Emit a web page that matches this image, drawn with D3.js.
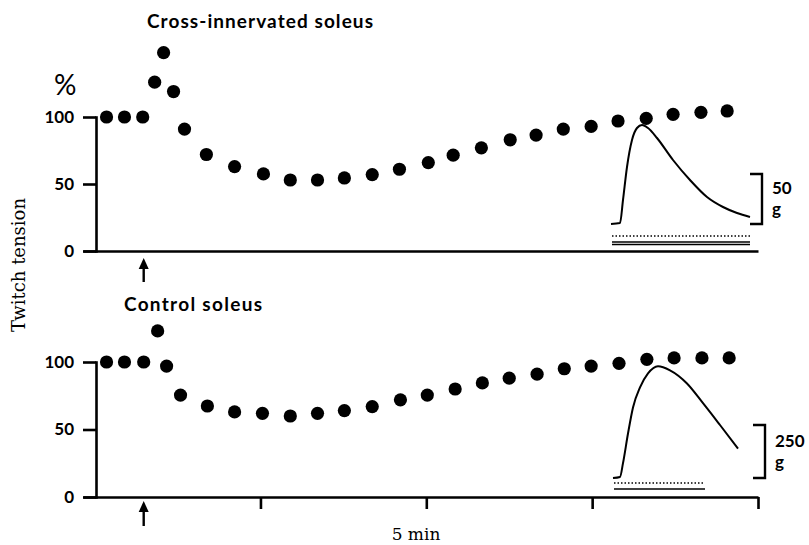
<!DOCTYPE html>
<html>
<head>
<meta charset="utf-8">
<script src="https://cdn.jsdelivr.net/npm/d3@7"></script>
<style>
  body { margin: 0; background: #fff; }
  .tick text { font-family: Lato, "Open Sans", sans-serif; font-weight: 700; font-size: 17px; fill: #000; }
  .sans { font-family: Lato, "Open Sans", sans-serif; font-weight: 700; }
  .serif { font-family: "DejaVu Serif", serif; }
</style>
</head>
<body>
<div id="chart"></div>
<script>
// twitch tension (% of initial) against time (min)
var crossTime = [0.36, 0.90, 1.45, 1.81, 2.08, 2.38, 2.71, 3.37, 4.22, 5.09, 5.90, 6.72, 7.53, 8.37,
                 9.19, 10.06, 10.81, 11.66, 12.53, 13.31, 14.13, 14.97, 15.78, 16.63, 17.44, 18.28, 19.07];
var crossTension = [100, 100, 100, 126, 148, 119, 91, 72, 63, 57.5, 53, 53, 54.5, 57,
                    61, 66, 71.5, 77, 83, 86.5, 91, 93, 97, 99, 102, 103.5, 104.5];

var controlTime = [0.36, 0.90, 1.48, 1.90, 2.17, 2.59, 3.40, 4.22, 5.06, 5.90, 6.72, 7.53, 8.37,
                   9.22, 10.03, 10.87, 11.69, 12.50, 13.34, 14.16, 14.97, 15.81, 16.65, 17.47, 18.31, 19.13];
var controlTension = [100, 100, 100, 123, 97, 75.5, 67.4, 63, 62, 60, 62, 64, 67,
                      72, 75.5, 80, 84.5, 88, 91, 95, 97, 99, 102, 103, 103, 103];

var stimTime = 1.48;           // arrow
var timeTicks = [5, 10, 15, 20];
var tensionTicks = [0, 50, 100];

// single twitch records (ms, g)
var crossTraceTime  = [0, 9, 12, 16, 21, 26, 31, 37, 46, 62, 79, 96, 112, 126, 139];
var crossTraceForce = [0, 1, 24, 57, 84, 96, 99, 96, 86, 64, 44, 27, 17, 11, 7];
var controlTraceTime  = [0, 7, 10, 15, 20, 27, 35, 45, 57, 74, 90, 107, 125];
var controlTraceForce = [0, 5, 70, 210, 333, 427, 493, 527, 508, 446, 353, 250, 139];

var width = 809, height = 545;

var svg = d3.select("#chart")
  .append("svg")
    .attr("width", width)
    .attr("height", height);

// shared time scale
var x = d3.scaleLinear().domain([-0.35, 20]).range([83, 758]);

var panels = [
  { title: "Cross-innervated soleus", titleX: 147, titleY: 28, titleLen: 226,
    time: crossTime, tension: crossTension, top: 117, bottom: 251, ticks: [],
    arrowGap: 7, arrowLen: 24,
    trace: { t: crossTraceTime, f: crossTraceForce, x0: 611, x1: 750, base: 224, pxPerG: 1,
             bar: 50, barX: 750, label: "50", labelSize: 17,
             dotY: 236, lineY: [242, 244.5], dotEnd: 752, lineEnd: 750 } },
  { title: "Control soleus", titleX: 124, titleY: 311, titleLen: 138,
    time: controlTime, tension: controlTension, top: 362, bottom: 497, ticks: timeTicks,
    arrowGap: 4, arrowLen: 25,
    trace: { t: controlTraceTime, f: controlTraceForce, x0: 613, x1: 738, base: 478, pxPerG: 0.212,
             bar: 250, barX: 753, label: "250", labelSize: 17,
             dotY: 483, lineY: [489], dotEnd: 705, lineEnd: 705 } }
];

panels.forEach(function(p) {
  var g = svg.append("g");
  var y = d3.scaleLinear().domain([0, 100]).range([p.bottom, p.top]);

  // axes
  g.append("g")
    .attr("transform", "translate(96,0)")
    .call(d3.axisLeft(y).tickValues(tensionTicks).tickSize(13).tickSizeOuter(0).tickPadding(9))
    .call(function(a) { a.selectAll("path,line").attr("stroke", "#000").attr("stroke-width", 2.6); })
    .call(function(a) { a.select(".domain").attr("stroke-linecap", "square"); });

  g.append("g")
    .attr("transform", "translate(0," + y(0) + ")")
    .call(d3.axisBottom(x).tickValues(p.ticks).tickSize(12).tickSizeOuter(0).tickFormat(""))
    .call(function(a) { a.selectAll("path,line").attr("stroke", "#000").attr("stroke-width", 2.6); });

  // points
  g.selectAll("circle")
    .data(p.time)
    .enter().append("circle")
      .attr("cx", function(d) { return x(d); })
      .attr("cy", function(d, i) { return y(p.tension[i]); })
      .attr("r", 6.6)
      .attr("fill", "#000");

  // title
  g.append("text")
    .attr("class", "sans")
    .attr("x", p.titleX)
    .attr("y", p.titleY)
    .attr("textLength", p.titleLen)
    .attr("lengthAdjust", "spacing")
    .style("font-size", "19px")
    .text(p.title);

  // stimulation arrow
  var ax = x(stimTime), tip = y(0) + p.arrowGap;
  g.append("line")
    .attr("x1", ax).attr("x2", ax)
    .attr("y1", tip + 6).attr("y2", tip + p.arrowLen)
    .attr("stroke", "#000").attr("stroke-width", 2.4);
  g.append("path")
    .attr("d", "M" + ax + "," + tip + "L" + (ax - 5) + "," + (tip + 11) + "L" + (ax + 5) + "," + (tip + 11) + "Z")
    .attr("fill", "#000");

  // inset twitch record
  var tr = p.trace;
  var tx = d3.scaleLinear().domain([0, d3.max(tr.t)]).range([tr.x0, tr.x1]);
  var ty = d3.scaleLinear().domain([0, 1]).range([tr.base, tr.base - tr.pxPerG]);
  var line = d3.line()
    .x(function(d, i) { return tx(tr.t[i]); })
    .y(function(d) { return ty(d); })
    .curve(d3.curveMonotoneX);
  g.append("path")
    .datum(tr.f)
    .attr("d", line)
    .attr("fill", "none")
    .attr("stroke", "#000")
    .attr("stroke-width", 2);

  // stimulus markers under the record
  g.append("line")
    .attr("x1", tr.x0 + 1).attr("x2", tr.dotEnd)
    .attr("y1", tr.dotY).attr("y2", tr.dotY)
    .attr("stroke", "#000").attr("stroke-width", 1.3).attr("stroke-dasharray", "1.5,2");
  tr.lineY.forEach(function(ly) {
    g.append("line")
      .attr("x1", tr.x0 + 1).attr("x2", tr.lineEnd)
      .attr("y1", ly).attr("y2", ly)
      .attr("stroke", "#000").attr("stroke-width", 1.3);
  });

  // scale bar
  g.append("path")
    .attr("d", "M" + tr.barX + "," + ty(tr.bar) + "H" + (tr.barX + 12) + "V" + ty(0) + "H" + tr.barX)
    .attr("fill", "none")
    .attr("stroke", "#000")
    .attr("stroke-width", 2.4);
  var lx = tr.barX + 22, mid = (ty(tr.bar) + ty(0)) / 2;
  g.append("text")
    .attr("class", "sans")
    .attr("x", lx).attr("y", mid - 5)
    .style("font-size", tr.labelSize + "px")
    .text(tr.label);
  g.append("text")
    .attr("class", "sans")
    .attr("x", lx).attr("y", mid + 16)
    .style("font-size", tr.labelSize + "px")
    .text("g");
});

// percent sign
svg.append("text")
  .attr("x", 54).attr("y", 95)
  .style("font-family", "Lato, sans-serif")
  .style("font-size", "28px")
  .text("%");

// axis titles
svg.append("text")
  .attr("class", "serif")
  .attr("transform", "translate(25,265) rotate(-90)")
  .attr("text-anchor", "middle")
  .style("font-size", "18px")
  .text("Twitch tension");

svg.append("text")
  .attr("class", "serif")
  .attr("x", 416).attr("y", 540)
  .attr("text-anchor", "middle")
  .style("font-size", "17px")
  .text("5 min");
</script>
</body>
</html>
